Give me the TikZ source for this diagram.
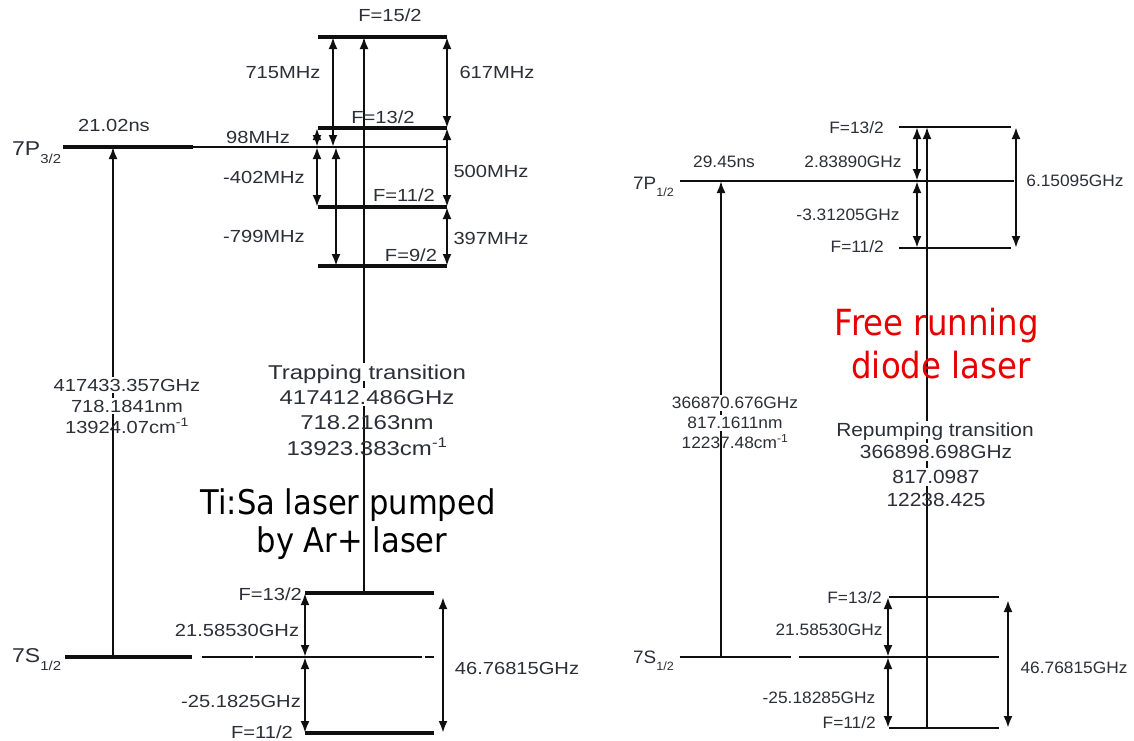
\documentclass[tikz,border=0pt]{standalone}
\usepackage{fontspec}
\setmainfont{Liberation Sans}
\newfontfamily\fL[FakeStretch=1.15]{Liberation Sans}
\newfontfamily\fR[FakeStretch=1.05]{Liberation Sans}
\newfontfamily\fT[FakeStretch=1.2]{Liberation Sans}
\newfontfamily\fM[FakeStretch=1.1]{Liberation Sans}
\newfontfamily\fD[FakeStretch=0.9]{DejaVu Sans}
\usetikzlibrary{arrows.meta}
\definecolor{txt}{RGB}{45,47,56}
\definecolor{ln}{RGB}{15,15,15}
\definecolor{redt}{RGB}{232,0,0}
\begin{document}
\begin{tikzpicture}[x=1pt,y=-1pt,
  lvl/.style={line width=3.4pt, draw=ln},
  thinl/.style={line width=1.6pt, draw=ln},
  rlvl/.style={line width=2.4pt, draw=ln},
  tipL/.tip={Latex[length=12pt,width=9pt]},
  dbl/.style={line width=2.3pt, draw=ln, tipL-tipL},
  upa/.style={line width=2.1pt, draw=ln, -tipL},
  lab/.style={font=\fL\fontsize{17.5}{17.5}\selectfont, text=txt, inner sep=0pt, text height=12.5pt, text depth=0pt},
  rlab/.style={font=\fR\fontsize{16.5}{16.5}\selectfont, text=txt, inner sep=0pt, text height=11.9pt, text depth=0pt},
  tlab/.style={font=\fT\fontsize{20}{20}\selectfont, text=txt, inner sep=0pt, text height=14.4pt, text depth=0pt},
  mlab/.style={font=\fM\fontsize{19}{19}\selectfont, text=txt, inner sep=0pt, text height=13.7pt, text depth=0pt},
  wbg/.style={fill=white, inner xsep=2pt, inner ysep=2pt},
  big/.style={font=\fD\fontsize{34}{34}\selectfont, text=black, inner sep=0pt, text height=24.8pt, text depth=0pt},
  bigred/.style={font=\fD\fontsize{36}{36}\selectfont, text=redt, inner sep=0pt, text height=26.3pt, text depth=0pt},
  statel/.style={font=\fL\fontsize{20}{20}\selectfont, text=txt, inner sep=0pt, anchor=base west},
  stater/.style={font=\fR\fontsize{18}{18}\selectfont, text=txt, inner sep=0pt, anchor=base west}
]
\useasboundingbox (0,0) rectangle (1134,740);
\fill[white] (0,0) rectangle (1134,740);

% ---------------- LEFT: coordinates ----------------
\coordinate (P3a) at (63,147);  \coordinate (P3b) at (193,147); \coordinate (P3c) at (447,147);
\coordinate (F15a) at (318,37);  \coordinate (F15b) at (447,37);
\coordinate (F13a) at (318,128); \coordinate (F13b) at (447,128);
\coordinate (F11a) at (318,207); \coordinate (F11b) at (447,207);
\coordinate (F9a) at (318,266);  \coordinate (F9b) at (447,266);
\coordinate (a715t) at (333,37); \coordinate (a715b) at (333,147);
\coordinate (a98t) at (317,128); \coordinate (a98b) at (317,147); \coordinate (a402b) at (317,207);
\coordinate (a799t) at (336,147); \coordinate (a799b) at (336,266);
\coordinate (Tr0) at (364,593); \coordinate (Tr1) at (364,37);
\coordinate (LT0) at (113,657); \coordinate (LT1) at (113,147);
\coordinate (S7a) at (65,657);  \coordinate (S7b) at (192,657);
\coordinate (S7c) at (202,657); \coordinate (S7d) at (253,657);
\coordinate (S7e) at (255,657); \coordinate (S7f) at (422,657);
\coordinate (S7g) at (425,657); \coordinate (S7h) at (434,657);
\coordinate (G13a) at (305,593); \coordinate (G13b) at (434,593);
\coordinate (G11a) at (305,733); \coordinate (G11b) at (434,733);
\coordinate (gm) at (305,657);
\coordinate (h46t) at (443,597); \coordinate (h46b) at (443,733);

% transition lines (behind text)
\draw[upa] (LT0) -- (LT1);
\draw[upa] (Tr0) -- (Tr1);

% levels
\draw[lvl] (P3a) -- (P3b);
\draw[thinl] (P3b) -- (P3c);
\draw[lvl] (F15a) -- (F15b);
\draw[lvl] (F13a) -- (F13b);
\draw[lvl] (F11a) -- (F11b);
\draw[lvl] (F9a) -- (F9b);
\draw[lvl] (S7a) -- (S7b);
\draw[thinl] (S7c) -- (S7d);
\draw[thinl] (S7e) -- (S7f);
\draw[thinl] (S7g) -- (S7h);
\draw[lvl] (G13a) -- (G13b);
\draw[lvl] (G11a) -- (G11b);

% interval arrows
\draw[dbl] (a715t) -- (a715b);
\draw[dbl] (F15b) -- (F13b);
\draw[dbl] (a98t) -- (a98b);
\draw[dbl] (a98b) -- (a402b);
\draw[dbl] (a799t) -- (a799b);
\draw[dbl] (F13b) -- (F11b);
\draw[dbl] (F11b) -- (F9b);
\draw[dbl] (G13a) -- (gm);
\draw[dbl] (gm) -- (G11a);
\draw[dbl] (h46t) -- (h46b);

% labels
\node[lab] (tF15) at (390,15) {F=15/2};
\node[lab] (t715) at (283,72) {715MHz};
\node[lab] (t617) at (497,72) {617MHz};
\node[lab] (tF13) at (383,117) {F=13/2};
\node[lab] (t98) at (258,137) {98MHz};
\node[lab] (t402) at (264,177) {-402MHz};
\node[lab] (t500) at (491,171) {500MHz};
\node[lab] (tF11) at (404,195) {F=11/2};
\node[lab] (t799) at (264,236) {-799MHz};
\node[lab] (t397) at (491,238) {397MHz};
\node[lab] (tF9) at (411,255) {F=9/2};
\node[lab] (t21ns) at (114,125) {21.02ns};
\node[statel] (t7P) at (12,155) {7P\raisebox{-8pt}{\fontsize{13}{13}\selectfont 3/2}};
\node[statel] (t7S) at (12,662) {7S\raisebox{-8pt}{\fontsize{13}{13}\selectfont 1/2}};
\node[lab, anchor=east] (tG13) at (302,594) {F=13/2};
\node[lab] (t2158) at (237,630) {21.58530GHz};
\node[lab] (t2518) at (241,701) {-25.1825GHz};
\node[lab, anchor=east] (tG11) at (293,732) {F=11/2};
\node[lab] (t4676) at (517,668) {46.76815GHz};

\node[lab, wbg] (l1) at (127,385) {417433.357GHz};
\node[lab, wbg] (l2) at (127,406) {718.1841nm};
\node[lab] (l3) at (127,427) {13924.07cm\textsuperscript{-1}};

\node[tlab, wbg] (m1) at (367,372) {Trapping transition};
\node[tlab, wbg] (m2) at (367,397) {417412.486GHz};
\node[tlab] (m3) at (367,422) {718.2163nm};
\node[tlab] (m4) at (367,448) {13923.383cm\textsuperscript{-1}};

\node[big] (ti1) at (348,502) {Ti:Sa laser pumped};
\node[big] (ti2) at (352,540) {by Ar+ laser};

% ---------------- RIGHT ----------------
\coordinate (RP7a) at (680,181); \coordinate (RP7b) at (1014,181);
\coordinate (RF13a) at (899,127); \coordinate (RF13b) at (1011,127);
\coordinate (RF11a) at (899,248); \coordinate (RF11b) at (1011,248);
\coordinate (r28t) at (917,127); \coordinate (r28m) at (917,181); \coordinate (r33b) at (917,248);
\coordinate (r61t) at (1016,127); \coordinate (r61b) at (1016,248);
\coordinate (RR0) at (927,728); \coordinate (RR1) at (927,127);
\coordinate (RT0) at (721,657); \coordinate (RT1) at (721,181);
\coordinate (RSa) at (680,657); \coordinate (RSb) at (791,657);
\coordinate (RSc) at (799,657); \coordinate (RSd) at (999,657);
\coordinate (RG13a) at (889,597); \coordinate (RG13b) at (999,597);
\coordinate (RG11a) at (889,728); \coordinate (RG11b) at (999,728);
\coordinate (q13) at (888,597); \coordinate (qm) at (888,657); \coordinate (q11) at (888,728);
\coordinate (q46t) at (1008,600); \coordinate (q46b) at (1008,728);

\draw[upa] (RT0) -- (RT1);
\draw[upa] (RR0) -- (RR1);

\draw[rlvl] (RP7a) -- (RP7b);
\draw[rlvl] (RF13a) -- (RF13b);
\draw[rlvl] (RF11a) -- (RF11b);
\draw[rlvl] (RSa) -- (RSb);
\draw[rlvl] (RSc) -- (RSd);
\draw[rlvl] (RG13a) -- (RG13b);
\draw[rlvl] (RG11a) -- (RG11b);

\draw[dbl] (r28t) -- (r28m);
\draw[dbl] (r28m) -- (r33b);
\draw[dbl] (r61t) -- (r61b);
\draw[dbl] (q13) -- (qm);
\draw[dbl] (qm) -- (q11);
\draw[dbl] (q46t) -- (q46b);

\node[rlab, anchor=east] (rF13) at (884,128) {F=13/2};
\node[rlab] (r2838) at (853,162) {2.83890GHz};
\node[rlab] (r3312) at (848,215) {-3.31205GHz};
\node[rlab, anchor=east] (rF11) at (884,247) {F=11/2};
\node[rlab] (r6150) at (1075,181) {6.15095GHz};
\node[rlab] (r2945) at (724,162) {29.45ns};
\node[stater] (r7P) at (633,189) {7P\raisebox{-7pt}{\fontsize{12}{12}\selectfont 1/2}};
\node[stater] (r7S) at (633,663) {7S\raisebox{-7pt}{\fontsize{12}{12}\selectfont 1/2}};
\node[rlab, anchor=east] (rG13) at (882,598) {F=13/2};
\node[rlab] (r2158) at (829,630) {21.58530GHz};
\node[rlab] (r2518) at (819,698) {-25.18285GHz};
\node[rlab, anchor=east] (rG11) at (876,723) {F=11/2};
\node[rlab] (r4676) at (1074,668) {46.76815GHz};

\node[rlab, wbg] (s1) at (735,403) {366870.676GHz};
\node[rlab, wbg] (s2) at (735,423) {817.1611nm};
\node[rlab] (s3) at (735,443) {12237.48cm\textsuperscript{-1}};

\node[mlab, wbg] (u1) at (935,430) {Repumping transition};
\node[mlab, wbg] (u2) at (936,452) {366898.698GHz};
\node[mlab, wbg] (u3) at (936,477) {817.0987};
\node[mlab] (u4) at (936,500) {12238.425};

\node[bigred] (fr1) at (937,322) {Free running};
\node[bigred] (fr2) at (941,365) {diode laser};
\end{tikzpicture}
\end{document}
